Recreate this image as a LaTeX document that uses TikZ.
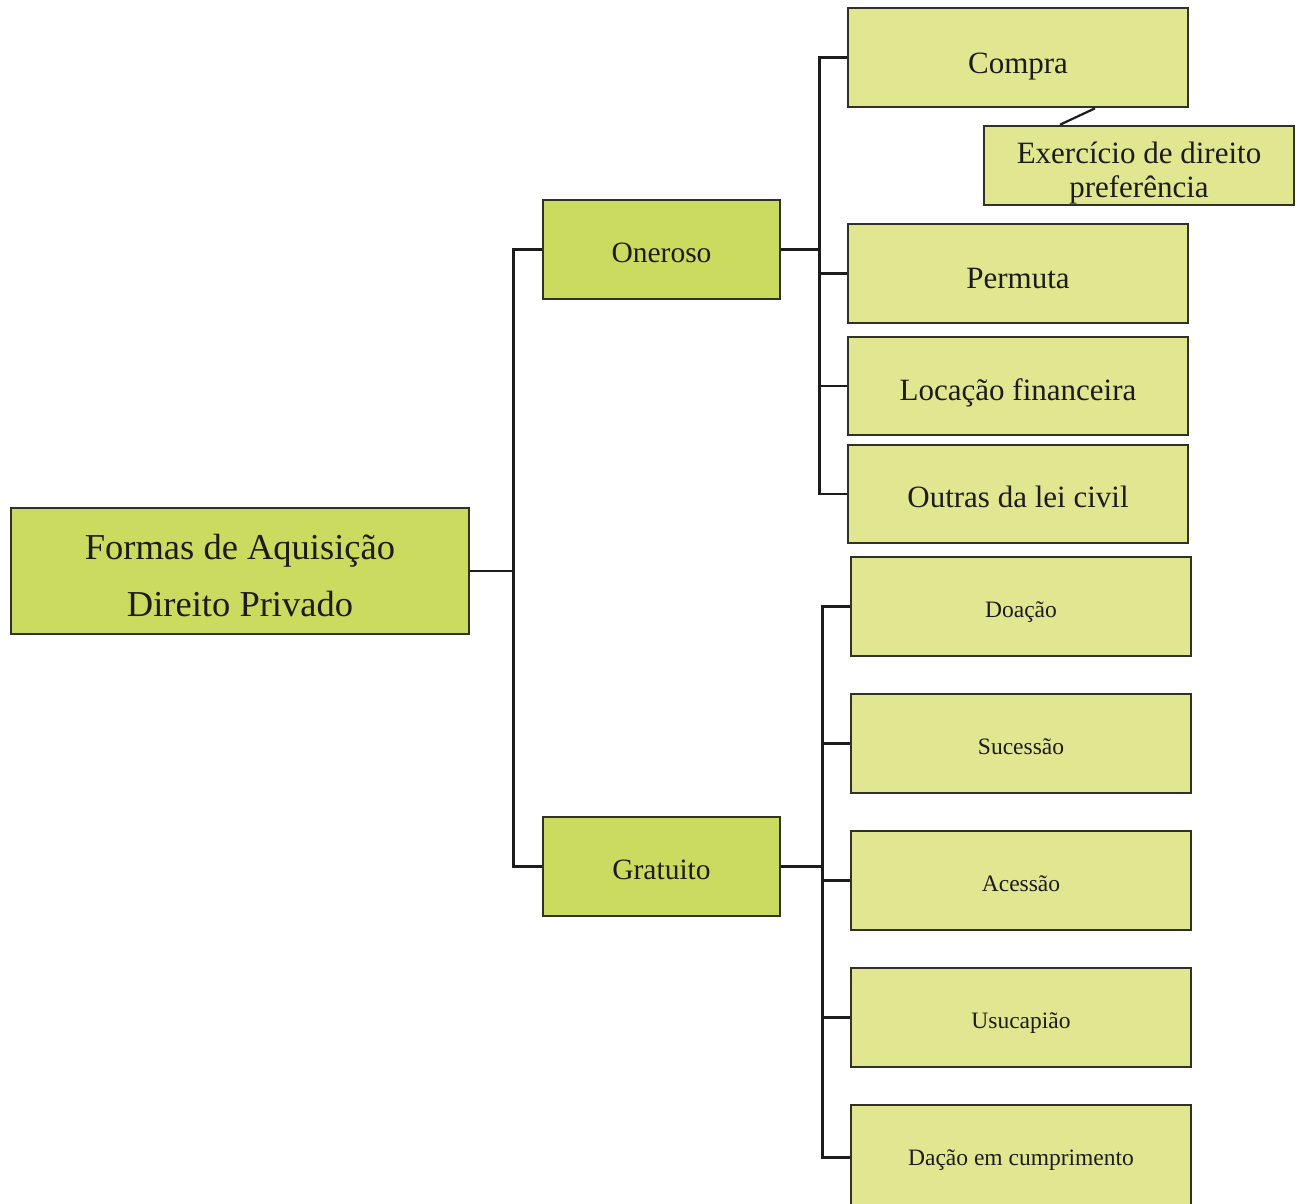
\documentclass[tikz,border=0pt]{standalone}
\usepackage{fontspec}
\setmainfont{Liberation Serif}
\definecolor{maingreen}{RGB}{203,219,95}
\definecolor{leafgreen}{RGB}{225,230,145}
\definecolor{edgecol}{RGB}{48,50,38}
\definecolor{inkcol}{RGB}{28,28,28}
% centred text block, lowered a little inside its box without changing its size
\newcommand\lowered[2]{\raisebox{-#1}[\height][\depth]{\begin{tabular}{@{}c@{}}#2\end{tabular}}}
\begin{document}
\begin{tikzpicture}[x=1pt,y=-1pt,
  box/.style={draw=edgecol, line width=2.6pt, inner sep=0pt, text=inkcol},
  mainbox/.style={box, fill=maingreen},
  leafbox/.style={box, fill=leafgreen},
  bigleaf/.style={leafbox, minimum width=340pt, minimum height=98pt, font=\fontsize{31}{34}\selectfont},
  smallleaf/.style={leafbox, minimum width=340pt, minimum height=99pt, font=\fontsize{23.5}{26}\selectfont},
  wire/.style={draw=inkcol, line width=2.8pt}]
\useasboundingbox (0,0) rectangle (1298,1203);

% root and the two main branches
\node[mainbox, minimum width=458pt, minimum height=126pt,
      font=\fontsize{36.5}{57}\selectfont] (root) at (240,571)
      {\lowered{6pt}{Formas de Aquisição\\Direito Privado}};
\node[mainbox, minimum width=237pt, minimum height=99pt,
      font=\fontsize{29.5}{32}\selectfont] (oneroso) at (661.5,249.5) {\lowered{7pt}{Oneroso}};
\node[mainbox, minimum width=237pt, minimum height=99pt,
      font=\fontsize{29.5}{32}\selectfont] (gratuito) at (661.5,866.5) {\lowered{7pt}{Gratuito}};

% onerous acquisition forms
\node[bigleaf, minimum height=99pt] (compra) at (1018,57.5) {\lowered{9pt}{Compra}};
\node[leafbox, minimum width=310pt, minimum height=79pt,
      font=\fontsize{31}{34}\selectfont] (exerc) at (1139,165.5)
      {\lowered{8pt}{Exercício de direito\\preferência}};
\node[bigleaf, minimum height=99pt] (permuta) at (1018,273.5) {\lowered{8pt}{Permuta}};
\node[bigleaf] (locacao) at (1018,386) {\lowered{8pt}{Locação financeira}};
\node[bigleaf] (outras) at (1018,494) {\lowered{7pt}{Outras da lei civil}};

% gratuitous acquisition forms
\node[smallleaf] (doacao) at (1021,606.5) {\lowered{6pt}{Doação}};
\node[smallleaf] (sucessao) at (1021,743.5) {\lowered{6pt}{Sucessão}};
\node[smallleaf] (acessao) at (1021,880.5) {\lowered{6pt}{Acessão}};
\node[smallleaf] (usucapiao) at (1021,1017.5) {\lowered{6pt}{Usucapião}};
\node[smallleaf, minimum height=105pt] (dacao) at (1021,1157.5) {\lowered{3pt}{Dação em cumprimento}};

% tree connectors
\draw[wire] (root.east) -- ++(43,0) coordinate (j0);
\draw[wire] (j0) |- (oneroso.west);
\draw[wire] (j0) |- (gratuito.west);

\draw[wire] (oneroso.east) -- ++(38,0) coordinate (j1);
\foreach \n in {compra,permuta,locacao,outras}
  \draw[wire] (j1) |- (\n.west);

\draw[wire] (gratuito.east) -- ++(41,0) coordinate (j2);
\foreach \n in {doacao,sucessao,acessao,usucapiao,dacao}
  \draw[wire] (j2) |- (\n.west);

\draw[wire, line width=2.2pt] ([xshift=77pt]compra.south) -- ([xshift=-79pt]exerc.north);
\end{tikzpicture}
\end{document}
